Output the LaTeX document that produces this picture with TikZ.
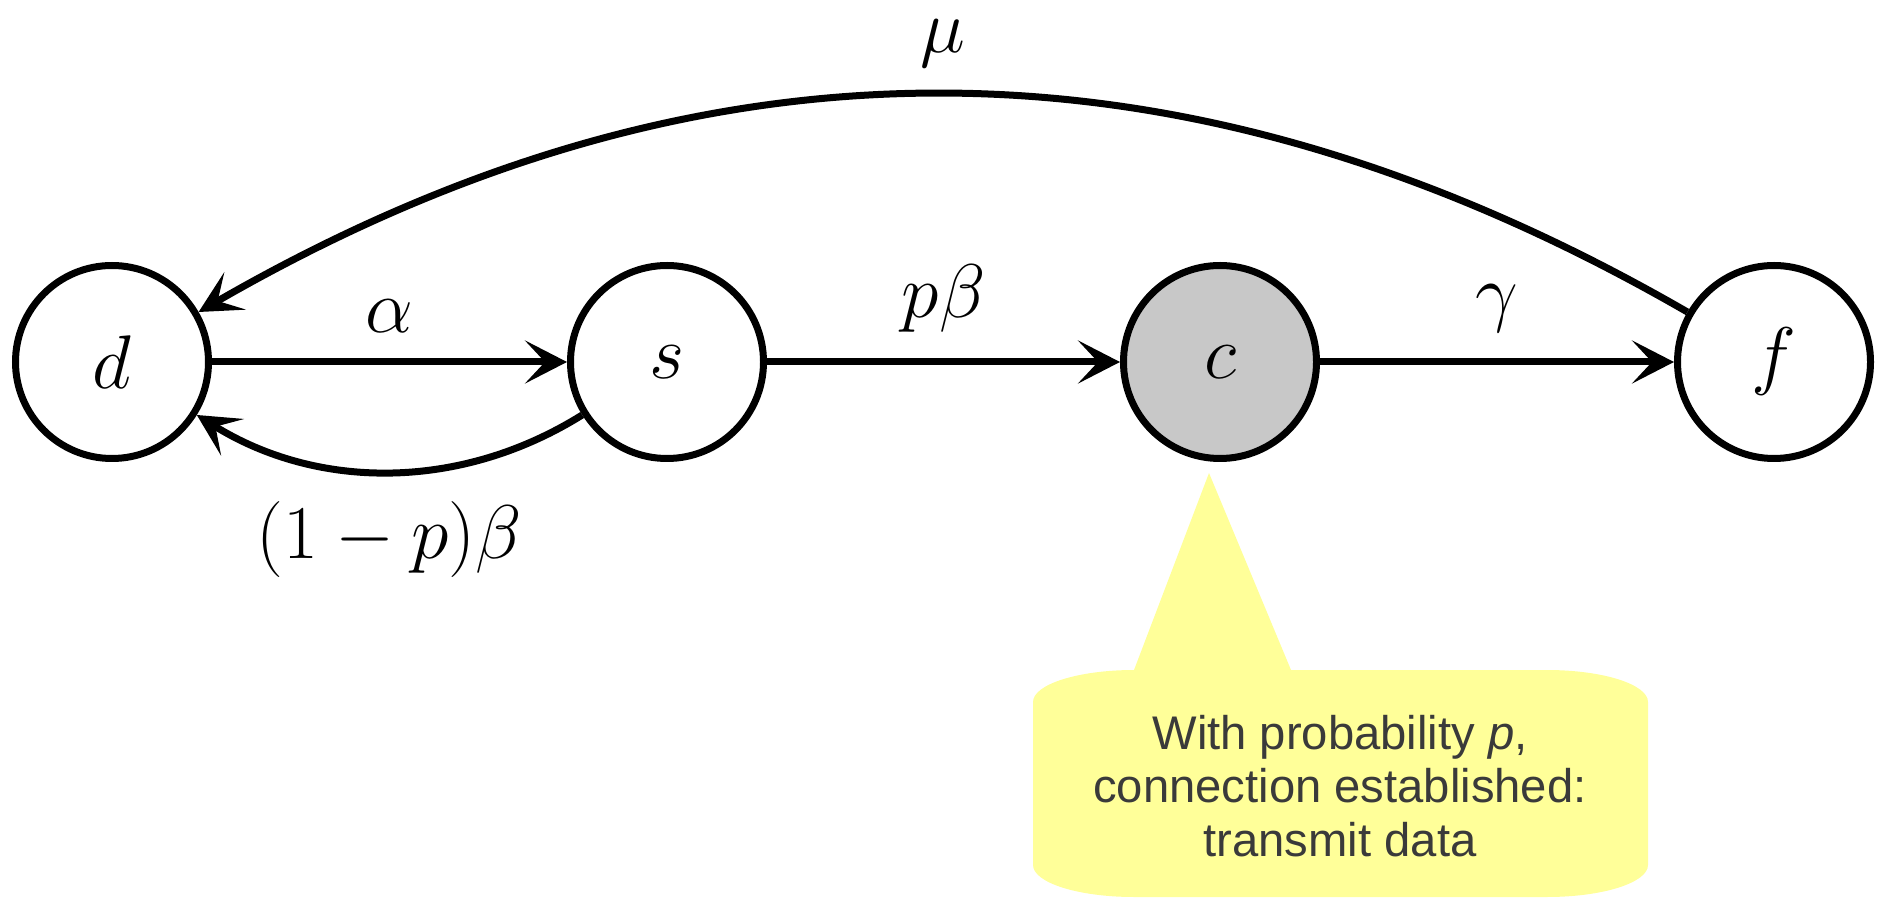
\RequirePackage{fix-cm}
\documentclass[tikz,border=0pt]{standalone}
\usepackage{fontspec}
\newfontfamily\calloutfont{Liberation Sans}
\usetikzlibrary{arrows.meta}
\definecolor{stategray}{HTML}{C8C8C8}
\definecolor{calloutyellow}{HTML}{FFFF99}
\definecolor{callouttext}{HTML}{3A3A3A}
\begin{document}
\begin{tikzpicture}[x=0.5pt,y=0.5pt,
  state/.style={circle,draw=black,line width=3.5pt,minimum size=96.5pt,inner sep=0pt,font=\fontsize{38}{44}\selectfont},
  conn/.style={line width=3.5pt,-{Stealth[length=21pt,width=21.5pt,inset=10pt]}},
  lab/.style={inner sep=0pt,font=\fontsize{38}{44}\selectfont},
  notetext/.style={font=\fontsize{23.6}{26.7}\selectfont\calloutfont,text=callouttext,align=center,inner sep=0pt}]
\useasboundingbox (0,0) rectangle (1883,900);
% callout balloon
\fill[calloutyellow] (1134,230) -- (1209,427) -- (1291,230) -- (1547,230)
  arc[start angle=90,end angle=0,x radius=50.5pt,y radius=16pt] -- (1648,35)
  arc[start angle=0,end angle=-90,x radius=50.5pt,y radius=16pt] -- (1134,3)
  arc[start angle=270,end angle=180,x radius=50.5pt,y radius=16pt] -- (1033,198)
  arc[start angle=180,end angle=90,x radius=50.5pt,y radius=16pt] -- cycle;
\node[notetext] (note) at (1340,114) {With probability \textit{p},\\connection established:\\transmit data};
% states
\node[state] (d) at (112,538) {$d$};
\node[state] (s) at (667,538) {$s$};
\node[state,fill=stategray] (c) at (1220,538) {$c$};
\node[state] (f) at (1774,538) {$f$};
% transitions
\draw[conn] (d) -- node[lab,above=13pt] {$\alpha$} (s);
\draw[conn] (s) -- node[lab,above=13pt] {$p\beta$} (c);
\draw[conn] (c) -- node[lab,above=13pt] {$\gamma$} (f);
\draw[conn] (s) to[out=-148,in=-32,looseness=0.95] node[lab,below=13pt] {$(1-p)\beta$} (d);
\draw[conn] (f) to[out=150,in=30] node[lab,above=11.5pt] {$\mu$} (d);
\end{tikzpicture}
\end{document}
